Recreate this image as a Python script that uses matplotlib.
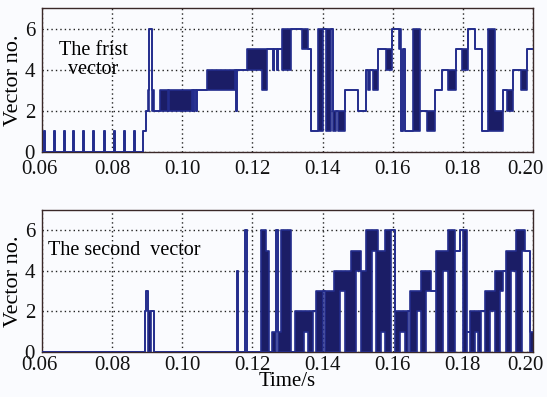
import numpy as np
import matplotlib
matplotlib.use("Agg")
import matplotlib.pyplot as plt

plt.rcParams['font.family'] = ['Liberation Serif', 'DejaVu Serif']

# Switching records: start time (ms), lower and upper vector number held
# until the next record (lower == upper -> steady vector, otherwise the
# inverter chatters between the two within that interval).
first_t_ms = [60.0, 60.6, 60.9, 63.4, 63.7, 66.3, 66.6, 68.8, 69.1, 71.7, 72.0,
              74.5, 74.8, 77.7, 78.0, 80.5, 80.8, 83.4, 83.7, 86.2, 86.5,
              88.8, 89.7, 90.2, 90.5, 91.4, 91.8, 93.6, 95.9, 96.2, 102.8,
              103.1, 103.4, 103.9, 104.2, 107.0, 115.0, 115.3, 115.6, 118.5,
              122.7, 124.2, 125.9, 126.2, 127.0, 127.3, 128.4, 131.0, 134.1,
              135.8, 136.7, 138.7, 140.1, 141.0, 142.4, 143.0, 143.9, 144.4,
              146.4, 150.1, 152.4, 153.0, 153.6, 154.4, 155.8, 158.1, 159.8,
              161.8, 162.5, 162.9, 163.5, 165.8, 167.8, 169.8, 172.1, 174.1,
              175.8, 178.1, 179.8, 181.5, 183.5, 185.5, 187.2, 189.2, 191.4,
              192.5, 194.3, 196.6, 198.3]
first_lo = [0, 1, 0, 1, 0, 1, 0, 1, 0, 1, 0,
            1, 0, 1, 0, 1, 0, 1, 0, 1, 0,
            1, 2, 2, 6, 2, 2, 2, 3, 2, 3,
            2, 3, 2, 3, 3, 4, 2, 4, 4,
            3, 5, 4, 5, 4, 5, 4, 6, 5,
            5, 1, 1, 6, 1, 6, 1, 2, 1,
            3, 2, 4, 3, 4, 3, 5, 4, 6,
            5, 1, 5, 1, 1, 2, 1, 3, 4,
            3, 5, 4, 6, 5, 1, 1, 1, 3,
            2, 4, 3, 5]
first_hi = [0, 1, 0, 1, 0, 1, 0, 1, 0, 1, 0,
            1, 0, 1, 0, 1, 0, 1, 0, 1, 0,
            1, 2, 3, 6, 3, 2, 3, 3, 3, 3,
            2, 3, 2, 3, 4, 4, 2, 4, 5,
            5, 5, 4, 5, 4, 5, 6, 6, 6,
            5, 1, 6, 6, 6, 6, 2, 2, 2,
            3, 2, 4, 4, 4, 4, 5, 5, 6,
            6, 1, 5, 1, 6, 2, 2, 3, 4,
            4, 5, 5, 6, 5, 1, 6, 2, 3,
            3, 4, 4, 5]

second_t_ms = [60.0, 89.4, 89.7, 90.1, 91.1, 91.9, 115.6, 115.9, 117.9, 118.5,
               122.4, 123.9, 124.7, 125.6, 126.7, 127.3, 128.1, 131.0, 132.1,
               134.7, 135.8, 137.3, 138.1, 140.1, 140.7, 143.3, 145.0, 146.4,
               148.1, 149.5, 151.0, 152.4, 154.1, 155.2, 155.8, 156.7, 157.8,
               159.5, 160.7, 162.1, 163.5, 164.4, 164.9, 166.9, 168.1, 169.5,
               170.9, 172.3, 174.3, 175.8, 177.8, 179.2, 180.0, 181.2, 182.0,
               183.5, 184.3, 185.1, 186.3, 187.7, 189.2, 190.6, 191.4, 192.3,
               193.7, 195.2, 196.9, 197.7, 199.1]
second_lo = [0, 2, 3, 0, 2, 0, 4, 0, 6, 0,
             0, 0, 0, 0, 6, 0, 0, 0, 0,
             1, 0, 2, 0, 3, 0, 0, 3, 0,
             0, 4, 0, 0, 5, 0, 0, 1, 0,
             6, 0, 1, 0, 2, 0, 2, 0, 3,
             3, 0, 4, 0, 5, 6, 0, 1, 0,
             1, 0, 2, 0, 2, 0, 3, 4, 0,
             4, 0, 5, 5, 0]
second_hi = [0, 2, 3, 2, 2, 0, 4, 0, 6, 0,
             6, 5, 0, 1, 6, 1, 6, 0, 2,
             2, 2, 2, 3, 3, 3, 4, 4, 4,
             5, 5, 4, 6, 6, 6, 5, 5, 6,
             6, 2, 2, 2, 2, 3, 3, 4, 4,
             3, 5, 5, 6, 5, 6, 6, 1, 2,
             2, 2, 2, 3, 3, 4, 4, 4, 5,
             5, 6, 6, 5, 1]

panel_labels = ["The frist\nvector", "The second  vector"]
x_ticks = [0.06, 0.08, 0.10, 0.12, 0.14, 0.16, 0.18, 0.20]
y_ticks = [0, 2, 4, 6]
t_end_ms = 200.0

LINE = '#232c8c'
FILL = '#1b1d66'
FRAME = '#3a2828'
BG = '#fafbfe'


def draw_states(ax, t_ms, lo, hi):
    t = np.append(np.asarray(t_ms, float), t_end_ms) / 1000.0
    lo = np.append(lo, lo[-1]).astype(float)
    hi = np.append(hi, hi[-1]).astype(float)
    ax.fill_between(t, lo, hi, step='post', color=FILL, lw=0, zorder=2)
    ax.step(t, lo, where='post', color=LINE, lw=1.2, zorder=3)
    ax.step(t, hi, where='post', color=LINE, lw=1.2, zorder=3)


fig = plt.figure(figsize=(5.47, 3.97), dpi=100, facecolor=BG)
ax1 = fig.add_axes([0.0768, 0.6171, 0.8976, 0.3627])
ax2 = fig.add_axes([0.0768, 0.1134, 0.8976, 0.3576])

draw_states(ax1, first_t_ms, first_lo, first_hi)
draw_states(ax2, second_t_ms, second_lo, second_hi)

for ax, xpad in ((ax1, 8), (ax2, 4)):
    ax.set_facecolor(BG)
    ax.set_xlim(0.06, 0.20)
    ax.set_ylim(0, 7)
    ax.set_xticks(x_ticks)
    # the end time labels are placed separately, nudged to fit the frame
    ax.set_xticklabels([""] + [f"{v:.2f}" for v in x_ticks[1:-1]] + [""])
    for v, dx in ((x_ticks[0], -3), (x_ticks[-1], -8)):
        ax.annotate(f"{v:.2f}", xy=(v, 0), xycoords=('data', 'axes fraction'),
                    xytext=(dx, -xpad), textcoords='offset pixels',
                    ha='center', va='top', fontsize=15, color='#111111')
    ax.set_yticks(y_ticks)
    ax.grid(True, color='#222222', linestyle=(0, (1, 2.2)), lw=1.0, zorder=1)
    ax.tick_params(direction='in', length=0, labelsize=15, colors='#111111')
    ax.tick_params(axis='x', pad=xpad * 0.72)
    ax.tick_params(axis='y', pad=5)
    for s in ax.spines.values():
        s.set_color(FRAME)
        s.set_linewidth(1.0)
    ax.set_ylabel("Vector no.", fontsize=16, labelpad=1)

ax2.set_xlabel("Time/s", fontsize=15, labelpad=-2)

ax1.text(0.0746, 4.45, panel_labels[0], fontsize=14.5, ha='center', va='center',
         linespacing=1.0, zorder=4)
ax2.text(0.0617, 5.0, panel_labels[1], fontsize=14.5, ha='left', va='center',
         zorder=4)

fig.savefig("out.png", dpi=100, facecolor=BG)
